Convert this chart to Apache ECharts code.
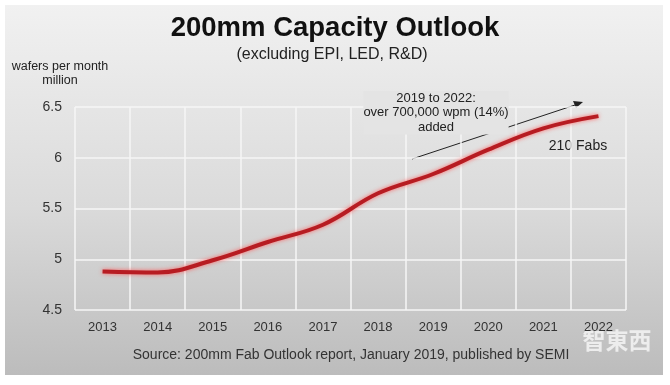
<!DOCTYPE html>
<html>
<head>
<meta charset="utf-8">
<script src="https://cdn.jsdelivr.net/npm/echarts@6/dist/echarts.min.js"></script>
<style>
html,body{margin:0;padding:0;background:#fff;}
#c{width:670px;height:385px;}
</style>
</head>
<body>
<div id="c"></div>
<script>
var years = ['2013','2014','2015','2016','2017','2018','2019','2020','2021','2022'];
var capacity = [4.88, 4.87, 4.99, 5.17, 5.34, 5.65, 5.84, 6.08, 6.29, 6.41];
var yTicks = [4.5, 5, 5.5, 6, 6.5];

var chart = echarts.init(document.getElementById('c'));
var font = 'Liberation Sans, Arial, sans-serif';
chart.setOption({
  animation: false,
  textStyle: {fontFamily: font},
  graphic: [
    {type:'rect', z:-10, shape:{x:5,y:5,width:658,height:370},
     style:{fill:new echarts.graphic.LinearGradient(0,0,0,1,[{offset:0,color:'#f1f1f1'},{offset:0.55,color:'#dadada'},{offset:1,color:'#bcbcbc'}])}},
    {type:'text', left:'center', top:14, style:{text:'200mm Capacity Outlook', font:'bold 27.5px '+font, fill:'#111'}},
    {type:'text', x:332, y:47, style:{text:'(excluding EPI, LED, R&D)', font:'16px '+font, fill:'#222', textAlign:'center'}},
    {type:'text', x:60, y:60, style:{text:'wafers per month\nmillion', font:'12.5px '+font, fill:'#222', textAlign:'center', lineHeight:14}},
    {type:'text', x:436, y:91, z:50, style:{text:'2019 to 2022:\nover 700,000 wpm (14%)\nadded', font:'13px '+font, fill:'#222', textAlign:'center', lineHeight:14.5, backgroundColor:'#e4e4e4', padding:[0,0]}},
    {type:'text', x:578, y:139, style:{text:'210 Fabs', font:'14px '+font, fill:'#222', textAlign:'center'}},
    {type:'line', shape:{x1:412,y1:159,x2:575,y2:105}, style:{stroke:'#222', lineWidth:1}},
    {type:'polygon', shape:{points:[[583,102],[573,101],[576,108]]}, style:{fill:'#222'}},
    {type:'text', x:351, y:348, style:{text:'Source: 200mm Fab Outlook report, January 2019, published by SEMI', font:'14px '+font, fill:'#333', textAlign:'center'}},
    {type:'text', x:617, y:329, style:{text:'智東西', font:'bold 23px Noto Sans CJK SC', fill:'rgba(255,255,255,0.7)', textAlign:'center', shadowColor:'rgba(0,0,0,0.2)', shadowBlur:2}}
  ],
  grid: {left:75, right:44, top:107, bottom:75},
  xAxis: {
    type:'category', data: years, boundaryGap:true,
    axisLine:{show:false}, axisTick:{show:false},
    axisLabel:{color:'#333', fontSize:13, margin:11},
    splitLine:{show:true, lineStyle:{color:'#f6f6f6', width:1.5}}
  },
  yAxis: {
    type:'value', min:4.5, max:6.5, interval:0.5,
    axisLine:{show:false}, axisTick:{show:false},
    axisLabel:{color:'#333', fontSize:14, margin:13,
      formatter:function(v){ return yTicks.indexOf(v) >= 0 ? String(v) : ''; }},
    splitLine:{show:true, lineStyle:{color:'#f6f6f6', width:1.5}}
  },
  series: [{
    type:'line', data: capacity, smooth:0.4, symbol:'none',
    lineStyle:{color:'#b71c22', width:4, shadowColor:'rgba(255,90,90,0.9)', shadowBlur:4}
  }]
});
</script>
</body>
</html>
